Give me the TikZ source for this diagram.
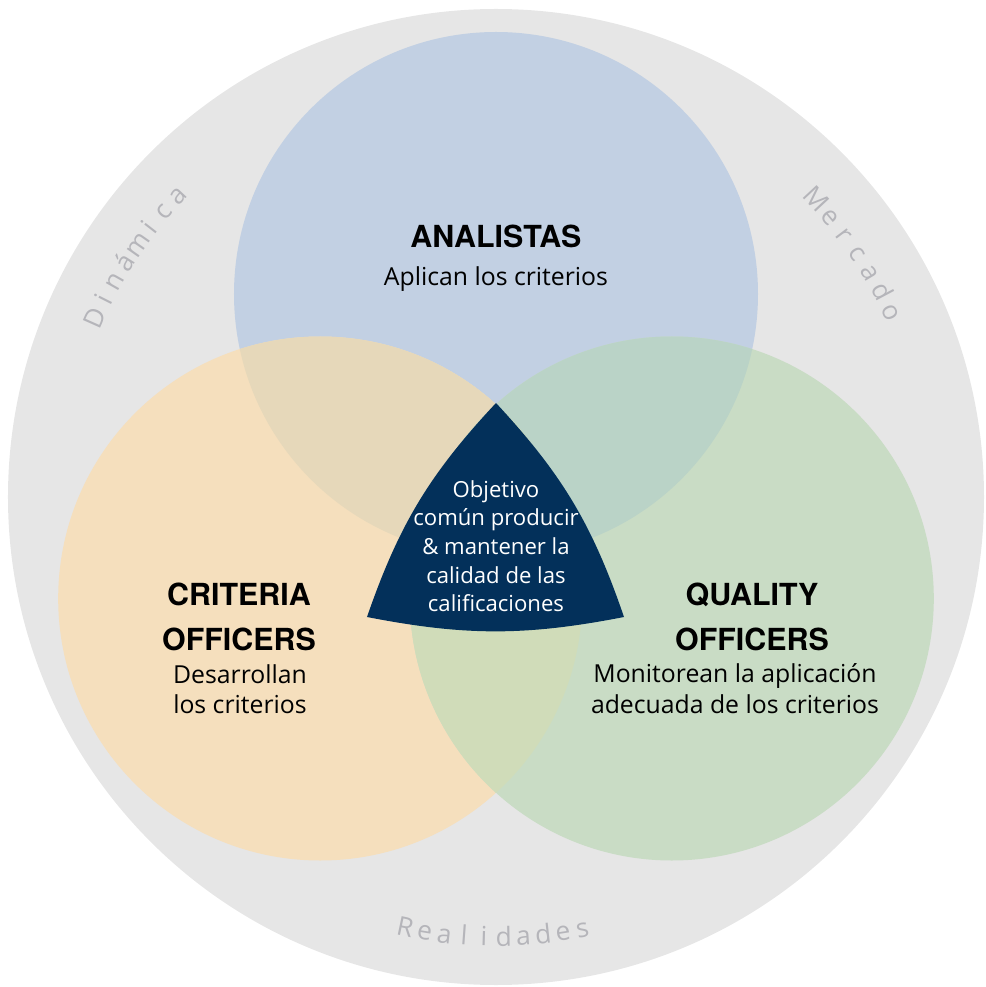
\documentclass[tikz,border=0pt]{standalone}
\usepackage{fontspec}
\setmainfont{Open Sans}
\newfontfamily\headfont{TeX Gyre Heros}

\definecolor{greybg}{HTML}{E6E6E6}
\definecolor{blueC}{HTML}{C2D0E3}
\definecolor{orangeC}{HTML}{F5DFBD}
\definecolor{greenC}{HTML}{C9DCC5}
\definecolor{blueorange}{HTML}{E6D8BA}
\definecolor{bluegreen}{HTML}{BAD3C7}
\definecolor{orangegreen}{HTML}{D0DCB9}
\definecolor{navy}{HTML}{03305A}
\definecolor{ringtext}{HTML}{B5B5BA}

\tikzset{
  head/.style={font=\headfont\bfseries\fontsize{17.3}{20}\selectfont, anchor=base, inner sep=0pt},
  body/.style={font=\fontsize{14.1}{17}\selectfont, anchor=base, inner sep=0pt},
  goal/.style={font=\fontsize{12.6}{15}\selectfont, text=white, anchor=base, inner sep=0pt},
  ring/.style={font=\fontsize{15}{18}\selectfont, text=ringtext, anchor=base, inner sep=0pt},
}

\begin{document}
\begin{tikzpicture}[x=0.02cm,y=0.02cm]
\useasboundingbox (-496,-490) rectangle (489,497);

\coordinate (O) at (0,0);
\coordinate (CB) at (90:203);
\coordinate (CO) at (210:203);
\coordinate (CG) at (330:203);

\fill[greybg] (O) circle[radius=488];

\fill[blueC] (CB) circle[radius=262];
\fill[orangeC] (CO) circle[radius=262];
\fill[greenC] (CG) circle[radius=262];

% overlaps
\begin{scope}
\clip (CB) circle[radius=262];
\fill[blueorange] (CO) circle[radius=262];
\fill[bluegreen] (CG) circle[radius=262];
\end{scope}
\begin{scope}
\clip (CO) circle[radius=262];
\fill[orangegreen] (CG) circle[radius=262];
\end{scope}

% centre
\coordinate (T) at (0,94);
\coordinate (L) at (-129,-120);
\coordinate (R) at (128,-120);
\fill[navy] (T) to[bend right=12] (L) to[bend right=11] (R) to[bend right=12] (T) -- cycle;

\foreach \ln [count=\i from 0] in {Objetivo,común producir,{\& mantener la},calidad de las,calificaciones}
  \node[goal] (goal\i) at (0,{-28.7*\i}) {\ln};

% circles
\node[head] (analistas) at (0,249) {ANALISTAS};
\node[body] (aplican) at (0,211) {Aplican los criterios};

\node[head] (criteria) at (-257,-108) {CRITERIA};
\node[head] (officersC) at (-257,-153) {OFFICERS};
\node[body] (desarrollan) at (-256,-186) {Desarrollan};
\node[body] (loscrit) at (-256,-216) {los criterios};

\node[head] (quality) at (256,-108) {QUALITY};
\node[head] (officersQ) at (256,-153) {OFFICERS};
\node[body] (monitorean) at (239,-185) {Monitorean la aplicación};
\node[body] (adecuada) at (239,-216) {adecuada de los criterios};

% ring
\foreach \ch [count=\i from 0] in {D,i,n,á,m,i,c,a}
  \node[ring, rotate={66-2.77*\i}] at ({156-2.77*\i}:430) {\ch};
\foreach \ch [count=\i from 0] in {M,e,r,c,a,d,o}
  \node[ring, rotate={-47.1-2.98*\i}] at ({42.9-2.98*\i}:428) {\ch};
\foreach \ch [count=\i from 0] in {R,e,a,l,i,d,a,d,e,s}
  \node[ring, rotate={-11.9+2.58*\i}] at ({-101.9+2.58*\i}:449) {\ch};
\end{tikzpicture}
\end{document}
